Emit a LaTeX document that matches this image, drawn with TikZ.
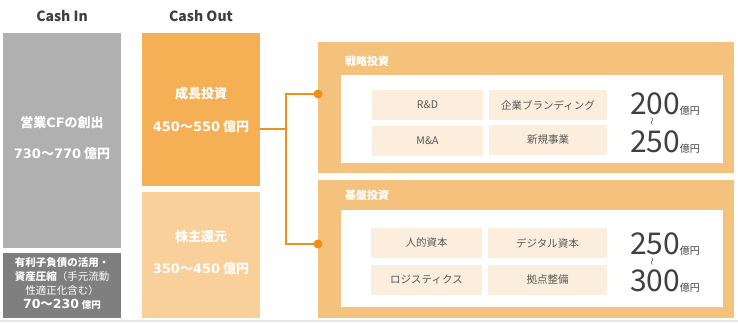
\documentclass[tikz,border=0pt]{standalone}
\usepackage{fontspec}
\setmainfont{Noto Sans CJK JP}
\newfontfamily\dv{DejaVu Sans}
\definecolor{cgray}{HTML}{B0B0B0}
\definecolor{cdgray}{HTML}{7F7F7F}
\definecolor{corange}{HTML}{F5B055}
\definecolor{clorange}{HTML}{F9D09A}
\definecolor{cpanel}{HTML}{F4C27C}
\definecolor{ccell}{HTML}{FBEEDD}
\definecolor{cline}{HTML}{F0901A}
\definecolor{ctext}{HTML}{404040}
\definecolor{ccelltext}{HTML}{595959}
\definecolor{crule}{HTML}{E6E6E6}
\tikzset{
  header/.style={text=ctext,font=\bfseries\fontsize{14}{14}\selectfont},
  block/.style={inner sep=0pt,outer sep=0pt},
  blocktext/.style={text=white,align=center,inner sep=0pt},
  ptitle/.style={text=white,font=\bfseries\fontsize{11}{11}\selectfont,anchor=west,inner sep=0pt},
  cell/.style={fill=ccell,text=ccelltext,inner sep=0pt,minimum height=30pt,font=\fontsize{10.5}{10.5}\selectfont},
  bignum/.style={text=ctext,inner sep=0pt},
  tilde/.style={text=ctext,inner sep=0pt,rotate=90,font=\fontsize{8}{8}\selectfont},
  conn/.style={draw=cline,line width=1.5pt},
  dot/.style={fill=cline}
}
\newcommand{\bn}[1]{{\fontsize{30}{30}\selectfont #1}{\fontsize{10}{10}\selectfont 億円}}
\begin{document}
\begin{tikzpicture}[x=1pt,y=-1pt]
\useasboundingbox (0,0) rectangle (738,323);
\fill[white] (0,0) rectangle (738,323);
\draw[crule,line width=2pt] (0,321) -- (738,321);

% headers
\node[header] (hin) at (62,16) {Cash In};
\node[header] (hout) at (201,16) {Cash Out};

% cash in
\node[block,fill=cgray,minimum width=118pt,minimum height=215pt] (cfo) at (62,140.5) {};
\node[blocktext,font=\bfseries\fontsize{13}{31}\selectfont] (cfot) at (62,138.5) {営業{\dv CF}の創出\\{\dv 730}～{\dv 770} 億円};
\node[block,fill=cdgray,minimum width=118pt,minimum height=65pt] (debt) at (62,285.5) {};
\node[blocktext,font=\fontsize{10.5}{14}\selectfont] (debtt) at (62,283.5)
  {\textbf{有利子負債の活用・}\\\textbf{資産圧縮}（手元流動\\性適正化含む）\\{\bfseries\fontsize{12.5}{14}\selectfont {\dv 70}～{\dv 230} }{\bfseries\fontsize{9.5}{14}\selectfont 億円}};

% cash out
\node[block,fill=corange,minimum width=118pt,minimum height=153pt] (grow) at (201,109.5) {};
\node[blocktext,font=\bfseries\fontsize{13}{33}\selectfont] (growt) at (201,109.5) {成長投資\\{\dv 450}～{\dv 550} 億円};
\node[block,fill=clorange,minimum width=118pt,minimum height=126pt] (ret) at (201,255) {};
\node[blocktext,font=\bfseries\fontsize{13}{32}\selectfont] (rett) at (201,253) {株主還元\\{\dv 350}～{\dv 450} 億円};

% strategic panel
\node[block,fill=cpanel,minimum width=416pt,minimum height=131pt] (strat) at (526,107.5) {};
\node[ptitle] (stratt) at (345,61) {戦略投資};
\node[block,fill=white,minimum width=382pt,minimum height=88pt] (stratin) at (532,119) {};
\node[cell,minimum width=111pt] (rd) at (427.5,105) {R\&D};
\node[cell,minimum width=118pt] (brand) at (548,105) {企業ブランディング};
\node[cell,minimum width=111pt] (ma) at (427.5,141) {M\&A};
\node[cell,minimum width=118pt] (newb) at (548,140) {新規事業};
\node[bignum] (s1) at (665,104) {\bn{200}};
\node[tilde] (s2) at (653,122) {～};
\node[bignum] (s3) at (665,142) {\bn{250}};

% basic panel
\node[block,fill=cpanel,minimum width=416pt,minimum height=138pt] (base) at (526,249) {};
\node[ptitle] (baset) at (345,195) {基盤投資};
\node[block,fill=white,minimum width=382pt,minimum height=97pt] (basein) at (532,258.5) {};
\node[cell,minimum width=111pt] (hum) at (426.5,243) {人的資本};
\node[cell,minimum width=119pt] (dig) at (547.5,243) {デジタル資本};
\node[cell,minimum width=111pt] (logi) at (426.5,280) {ロジスティクス};
\node[cell,minimum width=119pt] (hub) at (547.5,280) {拠点整備};
\node[bignum] (b1) at (665,244) {\bn{250}};
\node[tilde] (b2) at (653,261) {～};
\node[bignum] (b3) at (665,281) {\bn{300}};

% connectors
\coordinate (j) at (286,129);
\coordinate (jt) at (286,94);
\coordinate (jb) at (286,244);
\coordinate (d1) at (strat.west |- jt);
\coordinate (d2) at (base.west |- jb);
\draw[conn] (grow.east |- j) -- (j);
\draw[conn] (d1) -- (jt) -- (jb) -- (d2);
\fill[dot] (d1) circle (4.5pt);
\fill[dot] (d2) circle (4.5pt);
\end{tikzpicture}
\end{document}
